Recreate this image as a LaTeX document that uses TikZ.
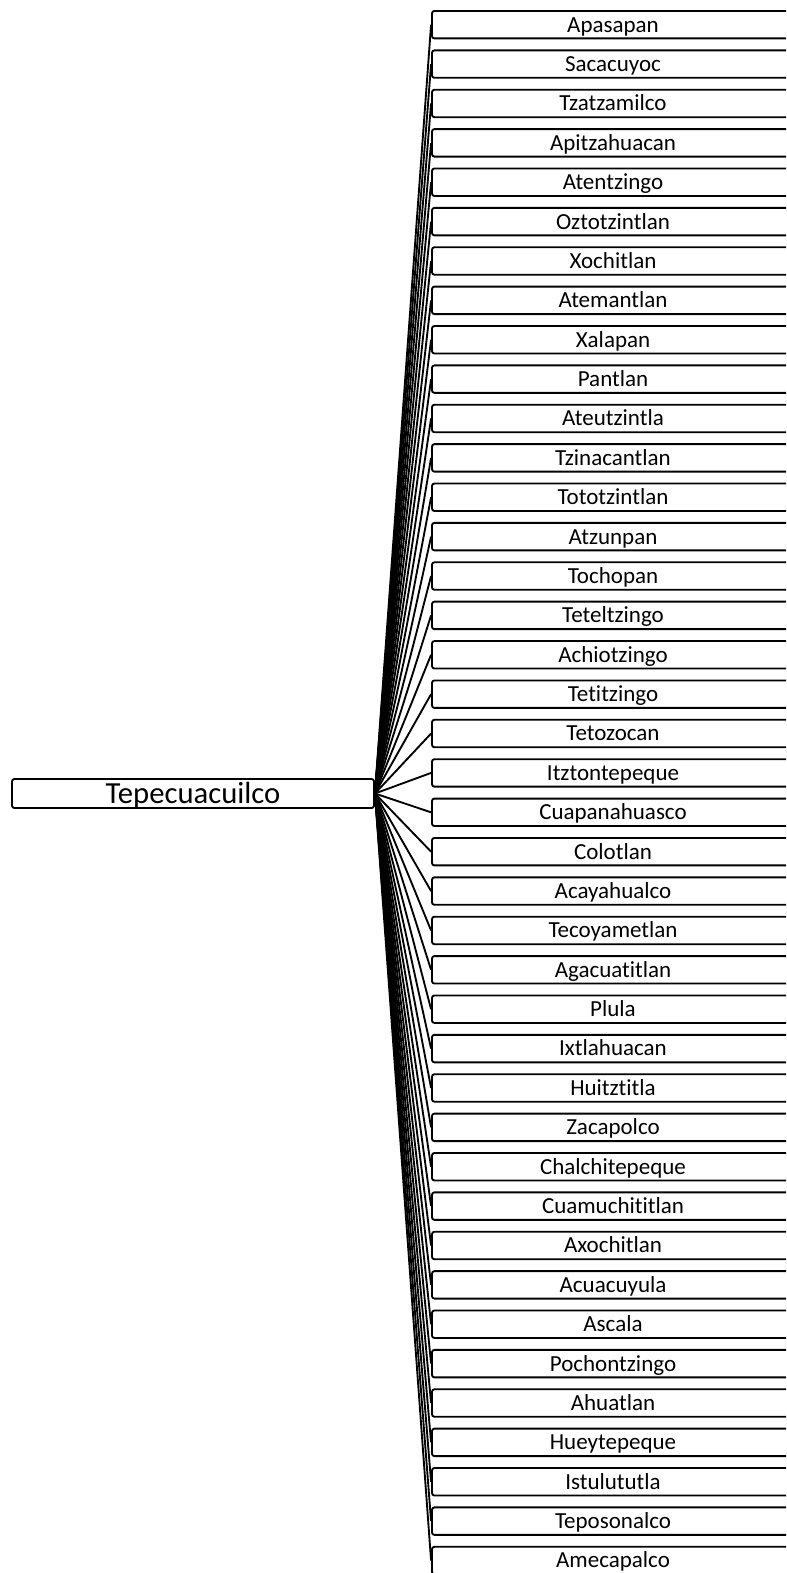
\documentclass[tikz,border=0pt]{standalone}
\usepackage{fontspec}
\setmainfont{Carlito}[Ligatures={NoCommon}]
\begin{document}
\begin{tikzpicture}[x=0.75pt,y=-0.75pt,
  box/.style={draw, line width=1.4pt, rounded corners=1.8pt, minimum width=271.5pt, inner sep=0pt, text depth=0pt, align=center},
  childbox/.style={box, minimum height=20.6pt, text height=11.1pt, font=\fontsize{17.25}{20}\selectfont},
  rootbox/.style={box, minimum height=21.75pt, text height=14.8pt, font=\fontsize{23}{27}\selectfont},
  link/.style={line width=1.4pt}]
\useasboundingbox (0,0) rectangle (786,1573);
\clip (0,0) rectangle (786,1573);
\node[rootbox] (root) at (193,793.5) {Tepecuacuilco};
\foreach \n [count=\i from 0] in {Apasapan,Sacacuyoc,Tzatzamilco,Apitzahuacan,Atentzingo,Oztotzintlan,Xochitlan,Atemantlan,Xalapan,Pantlan,Ateutzintla,Tzinacantlan,Tototzintlan,Atzunpan,Tochopan,Teteltzingo,Achiotzingo,Tetitzingo,Tetozocan,Itztontepeque,Cuapanahuasco,Colotlan,Acayahualco,Tecoyametlan,Agacuatitlan,Plula,Ixtlahuacan,Huitztitla,Zacapolco,Chalchitepeque,Cuamuchititlan,Axochitlan,Acuacuyula,Ascala,Pochontzingo,Ahuatlan,Hueytepeque,Istulututla,Teposonalco,Amecapalco} {
  \node[childbox] (c\i) at (613, 24.7+39.38*\i) {\n};
  \draw[link] (root.east) -- (c\i.west);
}
\end{tikzpicture}
\end{document}
